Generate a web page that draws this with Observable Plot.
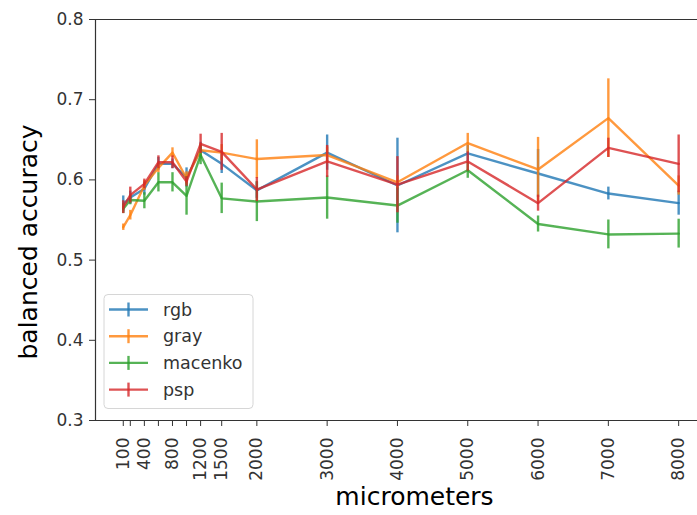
<!DOCTYPE html>
<html>
<head>
<meta charset="utf-8">
<script src="https://cdn.jsdelivr.net/npm/d3@7"></script>
<script src="https://cdn.jsdelivr.net/npm/@observablehq/plot@0.6"></script>
<style>
  html, body { margin: 0; padding: 0; background: white; overflow: hidden; }
  #chart { width: 697px; height: 515px; }
</style>
</head>
<body>
<div id="chart"></div>
<script>
// Patch size in micrometers and balanced accuracy (mean ± error) per colour normalisation
const micrometers = [100, 200, 400, 600, 800, 1000, 1200, 1500, 2000, 3000, 4000, 5000, 6000, 7000, 8000];
const labeledTicks = [100, 400, 800, 1200, 1500, 2000, 3000, 4000, 5000, 6000, 7000, 8000];
const yTicks = [0.3, 0.4, 0.5, 0.6, 0.7, 0.8];

const rgb        = [0.570, 0.578, 0.589, 0.620, 0.620, 0.603, 0.637, 0.620, 0.587, 0.634, 0.593, 0.633, 0.608, 0.583, 0.571];
const rgbErr     = [0.010, 0.008, 0.008, 0.008, 0.006, 0.012, 0.010, 0.012, 0.010, 0.022, 0.059, 0.010, 0.030, 0.008, 0.015];
const gray       = [0.541, 0.556, 0.593, 0.615, 0.634, 0.602, 0.637, 0.634, 0.626, 0.631, 0.597, 0.646, 0.613, 0.677, 0.593];
const grayErr    = [0.004, 0.006, 0.006, 0.006, 0.006, 0.008, 0.008, 0.010, 0.024, 0.010, 0.008, 0.012, 0.040, 0.049, 0.012];
const macenko    = [0.564, 0.575, 0.574, 0.597, 0.597, 0.580, 0.631, 0.577, 0.573, 0.578, 0.568, 0.612, 0.545, 0.532, 0.533];
const macenkoErr = [0.006, 0.006, 0.010, 0.012, 0.012, 0.024, 0.012, 0.019, 0.025, 0.027, 0.022, 0.010, 0.010, 0.018, 0.018];
const psp        = [0.566, 0.581, 0.595, 0.622, 0.622, 0.598, 0.645, 0.635, 0.588, 0.623, 0.594, 0.623, 0.571, 0.640, 0.620];
const pspErr     = [0.008, 0.010, 0.006, 0.008, 0.008, 0.006, 0.012, 0.023, 0.015, 0.020, 0.035, 0.012, 0.010, 0.012, 0.036];

const seriesNames = ["rgb", "gray", "macenko", "psp"];
const seriesColors = ["#1f77b4", "#ff7f0e", "#2ca02c", "#d62728"];
const seriesValues = [rgb, gray, macenko, psp];
const seriesErrors = [rgbErr, grayErr, macenkoErr, pspErr];

// Long table: one row per series and patch size
const rows = seriesNames.flatMap((name, s) =>
  micrometers.map((m, i) => ({
    series: name,
    micrometers: m,
    value: seriesValues[s][i],
    lo: seriesValues[s][i] - seriesErrors[s][i],
    hi: seriesValues[s][i] + seriesErrors[s][i]
  }))
);

const ink = "#333";

// Each series draws its line, then its error bars, in legend order
const seriesMarks = seriesNames.flatMap((name, s) => {
  const d = rows.filter((r) => r.series === name);
  const color = seriesColors[s];
  return [
    Plot.line(d, {x: "micrometers", y: "value", stroke: color, strokeWidth: 2.4, strokeOpacity: 0.8}),
    Plot.ruleX(d, {x: "micrometers", y1: "lo", y2: "hi", stroke: color, strokeWidth: 2.4, strokeOpacity: 0.8})
  ];
});

const chart = Plot.plot({
  width: 697,
  height: 515,
  marginLeft: 95,
  marginRight: 0,
  marginTop: 19,
  marginBottom: 95,
  style: {fontFamily: "DejaVu Sans", fontSize: "17px", color: ink, background: "white"},
  x: {domain: [-295, 8268]},
  y: {domain: [0.3, 0.8]},
  marks: [
    Plot.axisY({ticks: yTicks, tickFormat: d3.format(".1f"), tickSize: 6, tickPadding: 6, label: null, stroke: ink}),
    Plot.axisX({
      ticks: micrometers,
      tickFormat: (d) => (labeledTicks.includes(d) ? String(d) : ""),
      tickRotate: -90,
      tickSize: 6,
      tickPadding: 11,
      label: null,
      stroke: ink
    }),
    ...seriesMarks,
    // axes spines: left, bottom, top
    Plot.ruleX([-295], {stroke: ink, strokeWidth: 1.2}),
    Plot.ruleY([0.3, 0.8], {stroke: ink, strokeWidth: 1.2}),
    Plot.text(["balanced accuracy"], {frameAnchor: "left", textAnchor: "middle", dx: -67, dy: 22, rotate: -90, fontSize: 25, fill: "black"}),
    Plot.text(["micrometers"], {frameAnchor: "bottom", textAnchor: "middle", dx: 18, dy: 84, fontSize: 25, fill: "black"})
  ]
});

document.getElementById("chart").appendChild(chart);

// Legend box in the lower-left corner of the plotting area
const svg = d3.select(chart);
const legend = svg.append("g")
  .attr("font-family", "DejaVu Sans").attr("font-size", 17.5).attr("text-anchor", "start");
legend.append("rect")
  .attr("x", 104).attr("y", 294.5).attr("width", 149).attr("height", 114)
  .attr("rx", 4).attr("fill", "white").attr("fill-opacity", 0.8)
  .attr("stroke", "#d6d6d6").attr("stroke-width", 1);
seriesNames.forEach((name, i) => {
  const cy = 309.5 + i * 26.7;
  const g = legend.append("g").attr("stroke", seriesColors[i]).attr("stroke-opacity", 0.8).attr("stroke-width", 2.4);
  g.append("line").attr("x1", 109).attr("x2", 148).attr("y1", cy).attr("y2", cy);
  g.append("line").attr("x1", 128.5).attr("x2", 128.5).attr("y1", cy - 7).attr("y2", cy + 7);
  legend.append("text")
    .attr("x", 163).attr("y", cy).attr("dy", "0.35em")
    .attr("fill", ink).text(name);
});
</script>
</body>
</html>
